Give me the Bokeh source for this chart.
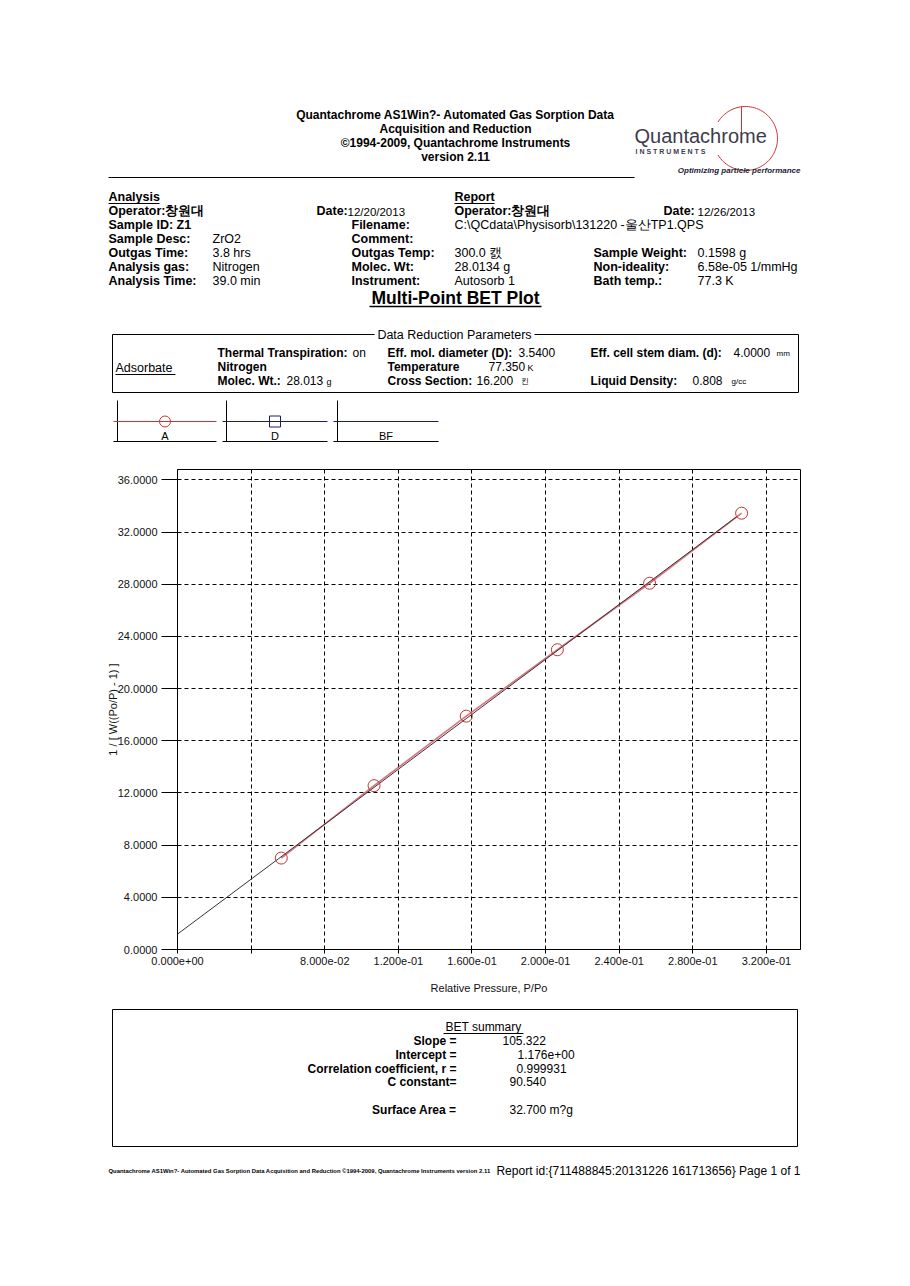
import numpy as np
from bokeh.plotting import figure
from bokeh.layouts import column
from bokeh.models import Range1d, FixedTicker, NumeralTickFormatter, CustomJSTickFormatter
from bokeh.core.properties import value
from bokeh.embed import file_html
from bokeh.resources import INLINE

# ---------------- data ----------------
rel_pressure = [0.0564, 0.1068, 0.1569, 0.2064, 0.2565, 0.3065]
bet_transform = [7.01, 12.56, 17.89, 22.98, 28.08, 33.45]
fit_x = [0.0, 0.3042]
fit_y = [1.18, 33.22]
x_ticks = [0.0, 0.04, 0.08, 0.12, 0.16, 0.20, 0.24, 0.28, 0.32]
x_tick_labels = ["0.000e+00", "", "8.000e-02", "1.200e-01", "1.600e-01",
                 "2.000e-01", "2.400e-01", "2.800e-01", "3.200e-01"]
y_ticks = [0, 4, 8, 12, 16, 20, 24, 28, 32, 36]

bet_labels = ["Slope =", "Intercept =", "Correlation coefficient, r =", "C constant=", "Surface Area ="]
bet_values = ["105.322", "1.176e+00", "0.999931", "90.540", "32.700 m?g"]

FONT = "Liberation Sans"
W = 910


def no_align(p):
    try:
        p.frame_align = False
    except Exception:
        pass


def page_fig(h, y_top, y_bot):
    p = figure(width=W, height=h, x_range=Range1d(0, W), y_range=Range1d(y_bot, y_top),
               x_axis_location=None, y_axis_location=None, toolbar_location=None,
               output_backend="svg", min_border=0, outline_line_color=None)
    p.grid.visible = False
    p.background_fill_color = "white"
    p.border_fill_color = "white"
    no_align(p)
    return p


def txt(p, x, y, s, size=12, bold=False, italic=False, align="left", color="black", font=FONT):
    style = "normal"
    if bold and italic:
        style = "bold italic"
    elif bold:
        style = "bold"
    elif italic:
        style = "italic"
    p.text(x=[x], y=[y], text=[s], text_font=value(font), text_font_size=f"{size}px",
           text_font_style=style, text_align=align, text_baseline="middle", text_color=color)


def seg(p, x0, y0, x1, y1, color="black", width=1):
    p.segment(x0=[x0], y0=[y0], x1=[x1], y1=[y1], line_color=color, line_width=width)


# ---------------- top part ----------------
top = page_fig(462, 0, 462)

hdr = ["Quantachrome AS1Win?- Automated Gas Sorption Data", "Acquisition and Reduction",
       "\u00a91994-2009, Quantachrome Instruments", "version 2.11"]
for i, s in enumerate(hdr):
    txt(top, 455, 114 + 14 * i, s, size=12, bold=True, align="center")
seg(top, 108, 177, 634, 177)

# logo
t = np.linspace(-2.6, 2.6, 80)
top.line(745 + 32 * np.cos(t), 138 + 32 * np.sin(t), line_color="#cc3333", line_width=1)
seg(top, 741, 106, 741, 143, color="#cc3333")
txt(top, 634, 135, "Quantachrome", size=20, color="#3c3c4c")
txt(top, 635, 151, "I  N  S  T  R  U  M  E  N  T  S", size=7, bold=True, color="#3c3c4c")
txt(top, 800, 170, "Optimizing particle performance", size=8, bold=True, italic=True,
    align="right", color="#222233")

# analysis block
B = 12.5
txt(top, 108, 196, "Analysis", size=B, bold=True)
seg(top, 108, 203, 159, 203)
left_rows = [("Operator:\ucc3d\uc6d0\ub300", ""), ("Sample ID:  Z1", ""), ("Sample Desc:", "ZrO2"),
             ("Outgas Time:", "3.8 hrs"), ("Analysis gas:", "Nitrogen"), ("Analysis Time:", "39.0 min")]
for i, (lab, val) in enumerate(left_rows):
    y = 210 + 14 * i
    txt(top, 108, y, lab, size=B, bold=True)
    if val:
        txt(top, 212, y, val, size=B)

txt(top, 316, 210, "Date:", size=B, bold=True)
txt(top, 347, 211, "12/20/2013", size=11.5)
mid_rows = [("Filename:", ""), ("Comment:", ""), ("Outgas Temp:", "300.0 \uce9c"),
            ("Molec. Wt:", "28.0134 g"), ("Instrument:", "Autosorb 1")]
for i, (lab, val) in enumerate(mid_rows):
    y = 224 + 14 * i
    txt(top, 351, y, lab, size=B, bold=True)
    if val:
        txt(top, 454, y, val, size=B)

txt(top, 454, 196, "Report", size=B, bold=True)
seg(top, 454, 203, 494, 203)
txt(top, 454, 210, "Operator:\ucc3d\uc6d0\ub300", size=B, bold=True)
txt(top, 663, 210, "Date:", size=B, bold=True)
txt(top, 697, 211, "12/26/2013", size=11.5)
txt(top, 454, 224, "C:\\QCdata\\Physisorb\\131220 -\uc6b8\uc0b0TP1.QPS", size=B)
right_rows = [("Sample Weight:", "0.1598 g"), ("Non-ideality:", "6.58e-05 1/mmHg"),
              ("Bath temp.:", "77.3 K")]
for i, (lab, val) in enumerate(right_rows):
    y = 252 + 14 * i
    txt(top, 593, y, lab, size=B, bold=True)
    txt(top, 697, y, val, size=B)

txt(top, 455, 297, "Multi-Point BET Plot", size=17.5, bold=True, align="center")
seg(top, 369, 306, 541, 306, width=1.5)

# data reduction parameters box
seg(top, 112, 334, 374, 334)
seg(top, 534, 334, 798, 334)
seg(top, 112, 334, 112, 392)
seg(top, 798, 334, 798, 392)
seg(top, 112, 392, 798, 392)
txt(top, 454, 334, "Data Reduction Parameters", size=12.5, align="center")
txt(top, 115, 367, "Adsorbate", size=12.5)
seg(top, 115, 374, 175, 374)
txt(top, 217, 352, "Thermal Transpiration:", size=12, bold=True)
txt(top, 352, 352, "on", size=12)
txt(top, 217, 366, "Nitrogen", size=12, bold=True)
txt(top, 217, 380, "Molec. Wt.:", size=12, bold=True)
txt(top, 286, 380, "28.013", size=12)
txt(top, 326, 381, "g", size=9)
txt(top, 387, 352, "Eff. mol. diameter (D):", size=12, bold=True)
txt(top, 518, 352, "3.5400", size=12)
txt(top, 387, 366, "Temperature", size=12, bold=True)
txt(top, 488, 366, "77.350", size=12)
txt(top, 527, 367, "K", size=9)
txt(top, 387, 380, "Cross Section:", size=12, bold=True)
txt(top, 476, 380, "16.200", size=12)
txt(top, 520, 381, "\ud0a8", size=8)
txt(top, 590, 352, "Eff. cell stem diam. (d):", size=12, bold=True)
txt(top, 733, 352, "4.0000", size=12)
txt(top, 776, 353, "mm", size=8)
txt(top, 590, 380, "Liquid Density:", size=12, bold=True)
txt(top, 692, 380, "0.808", size=12)
txt(top, 731, 381, "g/cc", size=8)

# legend boxes
legend_items = [("A", "#cc3333", "circle", 113, 216), ("D", "#1c1c6e", "square", 222, 327),
                ("BF", "#1c1c6e", None, 333, 438)]
for name, col, mk, x0, x1 in legend_items:
    seg(top, x0 + 4, 400, x0 + 4, 441)
    seg(top, x0, 421, x1, 421, color=col)
    seg(top, x0, 441, x1, 441)
    cx = (x0 + x1) / 2
    if mk is not None:
        top.scatter(x=[cx], y=[421], marker=mk, size=11, fill_color=None, line_color=col, line_width=1)
    txt(top, cx, 435, name, size=11, align="center")

# ---------------- chart ----------------
chart = figure(width=W, height=541, x_range=Range1d(0, 0.3385), y_range=Range1d(0, 36.8),
               toolbar_location=None, output_backend="svg",
               min_border_left=177, min_border_right=110, min_border_top=7, min_border_bottom=54,
               outline_line_color="black", outline_line_width=1)
chart.background_fill_color = "white"
chart.border_fill_color = "white"
no_align(chart)

chart.xaxis.ticker = FixedTicker(ticks=x_ticks)
chart.xaxis.formatter = CustomJSTickFormatter(args=dict(tvals=x_ticks, tlabels=x_tick_labels), code="""
let best = 0; let d = Infinity;
for (let i = 0; i < tvals.length; i++) { const e = Math.abs(tvals[i] - tick); if (e < d) { d = e; best = i; } }
return tlabels[best];
""")
chart.yaxis.ticker = FixedTicker(ticks=y_ticks)
chart.yaxis.formatter = NumeralTickFormatter(format="0.0000")

chart.axis.axis_line_color = "black"
chart.axis.major_tick_line_color = "black"
chart.axis.minor_tick_line_color = None
chart.axis.major_tick_in = 0
chart.xaxis.major_tick_out = 4
chart.yaxis.major_tick_out = 16
chart.axis.major_label_text_font = FONT
chart.axis.major_label_text_font_size = "11px"
chart.axis.major_label_text_color = "#111111"
chart.xaxis.major_label_standoff = 3
chart.yaxis.major_label_standoff = 4
chart.axis.axis_label_text_font = FONT
chart.axis.axis_label_text_font_size = "11px"
chart.axis.axis_label_text_font_style = "normal"
chart.axis.axis_label_text_color = "#111111"
chart.xaxis.axis_label = "Relative Pressure, P/Po"
chart.yaxis.axis_label = "1 / [ W((Po/P) - 1) ]"
chart.xaxis.axis_label_standoff = 14
chart.yaxis.axis_label_standoff = -4

chart.grid.grid_line_color = "black"
chart.grid.grid_line_dash = "4 3"
chart.grid.grid_line_width = 1

chart.line(rel_pressure, bet_transform, line_color="#d0505f", line_width=1.6, line_alpha=0.8)
chart.line(fit_x, fit_y, line_color="#3a3038", line_width=1)
chart.scatter(rel_pressure, bet_transform, marker="circle", size=12, fill_color=None,
              line_color="#c0392b", line_width=1)

# ---------------- bottom part ----------------
bot = page_fig(283, 1003, 1286)
seg(bot, 112, 1009, 797, 1009)
seg(bot, 112, 1146, 797, 1146)
seg(bot, 112, 1009, 112, 1146)
seg(bot, 797, 1009, 797, 1146)
txt(bot, 483, 1026, "BET summary", size=12, align="center")
seg(bot, 443, 1033, 523, 1033)
bet_y = [1040, 1054, 1068, 1081, 1109]
bet_vx = [502, 517, 516, 509, 509]
for lab, val, y, vx in zip(bet_labels, bet_values, bet_y, bet_vx):
    txt(bot, 456, y, lab, size=12, bold=True, align="right")
    txt(bot, vx, y, val, size=12)

txt(bot, 108, 1170, "Quantachrome AS1Win?- Automated Gas Sorption Data Acquisition and Reduction "
    "\u00a91994-2009, Quantachrome Instruments version 2.11", size=5.9, bold=True)
txt(bot, 800, 1170, "Report id:{711488845:20131226 161713656} Page 1 of 1", size=12, align="right")

layout = column(top, chart, bot, spacing=0)
open("out.html", "w").write(file_html(layout, INLINE))
